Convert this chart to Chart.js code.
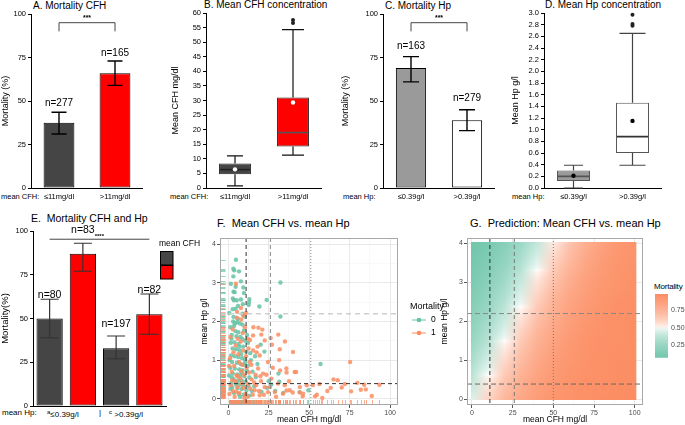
<!DOCTYPE html>
<html lang="en">
<head>
<meta charset="UTF-8">
<title>CFH and Hp mortality</title>
<script src="https://cdn.jsdelivr.net/npm/chart.js"></script>
<style>
  body { margin: 0; background: #fff; width: 685px; height: 425px; position: relative; overflow: hidden;
         font-family: "Liberation Sans", Arial, sans-serif; }
  canvas { position: absolute; }
  .t { position: absolute; white-space: nowrap; color: #000; font-size: 10px; line-height: 10px; }
  .xl { position: absolute; white-space: nowrap; color: #000; font-size: 7.5px; line-height: 9px; }
  .gg { position: absolute; white-space: nowrap; color: #000; font-size: 11px; line-height: 11px; }
  sup { font-size: 6px; vertical-align: 3px; }
</style>
</head>
<body>
<div class="t" style="left:33px;top:1px">A. Mortality CFH</div>
<div class="t" style="left:204px;top:0px">B. Mean CFH concentration</div>
<div class="t" style="left:385px;top:1px">C. Mortality Hp</div>
<div class="t" style="left:545px;top:0px">D. Mean Hp concentration</div>
<div class="xl" style="left:1px;top:192px">mean CFH:</div>
<div class="xl" style="left:170px;top:192px">mean CFH:</div>
<div class="xl" style="left:343px;top:192px">mean Hp:</div>
<div class="xl" style="left:512px;top:192px">mean Hp:</div>

<div class="t" style="left:31px;top:213px;font-size:10.5px">E.&nbsp; Mortality CFH and Hp</div>
<div class="xl" style="left:2px;top:408px;font-size:8px">mean Hp:</div>
<div class="xl" style="left:47px;top:408px;font-size:8px"><sup>a</sup>≤0.39g/l</div>
<div class="xl" style="left:99px;top:408px;font-size:8px">|</div>
<div class="xl" style="left:109px;top:408px;font-size:8px"><sup>c</sup> &gt;0.39g/l</div>

<div class="gg" style="left:217px;top:218px">F.&nbsp; Mean CFH vs. mean Hp</div>
<div class="gg" style="left:470px;top:218px">G.&nbsp; Prediction: Mean CFH vs. mean Hp</div>
<div class="xl" style="left:654px;top:282px;font-size:8px;letter-spacing:-0.2px">Mortality</div>

<canvas id="cA" style="left:0;top:0" width="143" height="205"></canvas>
<canvas id="cB" style="left:170px;top:0" width="152" height="205"></canvas>
<canvas id="cC" style="left:340px;top:0" width="155" height="205"></canvas>
<canvas id="cD" style="left:510px;top:0" width="152" height="205"></canvas>
<canvas id="cE" style="left:0;top:200px" width="210" height="220"></canvas>
<canvas id="cF" style="left:200px;top:230px" width="245" height="195"></canvas>
<canvas id="cG" style="left:440px;top:230px" width="245" height="195"></canvas>
<canvas id="cBar" style="left:650px;top:285px" width="35" height="80"></canvas>

<script>
// ---- data ----
const cfhGroups = ['≤11mg/dl', '>11mg/dl'];
const mortCfh = [37.5, 66];
const mortCfhLo = [31, 59];
const mortCfhHi = [43.5, 73];
const nCfh = ['n=277', 'n=165'];

// box stats: [whisker low, Q1, median, Q3, whisker high]
const cfhBox = [[0.7, 4.7, 6.3, 8.4, 11], [11.3, 14.2, 19, 31, 54.3]];
const cfhMean = [6.4, 29.3];
const cfhOutliers = [[], [56.6, 57.6]];

const hpGroups = ['≤0.39g/l', '>0.39g/l'];
const mortHp = [69, 39];
const mortHpLo = [61, 33];
const mortHpHi = [75.5, 45];
const nHp = ['n=163', 'n=279'];

const hpBox = [[0, 0.12, 0.2, 0.3, 0.39], [0.39, 0.6, 0.88, 1.46, 2.65]];
const hpMean = [0.21, 1.15];
const hpOutliers = [[], [2.78, 2.81, 2.97]];

const comboGroups = ['≤0.39 / ≤11', '≤0.39 / >11', '>0.39 / ≤11', '>0.39 / >11'];
const mortCombo = [50, 87, 33, 52.5];
const mortComboLo = [39, 77, 27, 41];
const mortComboHi = [61, 93, 40, 64];
const nCombo = ['n=80', 'n=83', 'n=197', 'n=82'];

// scatter (mean CFH mg/dl, mean Hp g/l)
const alivePts = [
  [4.7,3.6],[3.1,3.37],[3.6,3.33],[6.6,3.3],[3.1,3.17],[7.8,3.04],[1.6,2.98],[32.2,3.01],
  [3.2,2.77],[3.9,2.76],[9.7,2.74],[9.3,2.88],[2.8,2.6],[3.4,2.55],[13,2.58],[12.8,2.5],[12.6,2.43],
  [5.2,2.55],[7.8,2.57],[23.7,2.56],[19.2,2.39],[2.7,2.32],[4.5,2.33],[0.6,2.22],[8.7,2.2],[10,2.13],
  [32.2,2.13],[3.2,2.12],[5.9,2.07],[5.5,1.98],[7.2,1.95],[8.8,1.92],[1.2,1.85],[3.4,1.88],[4.4,1.75],
  [6.2,1.72],[9.6,1.76],[2.1,1.65],[5,1.62],[7.5,1.6],[8.6,1.55],[10.4,1.5],[1.5,1.45],[3.8,1.46],
  [6.4,1.42],[12.2,1.45],[20,1.4],[22.3,1.22],[9.2,1.35],[2.6,1.3],[4.8,1.28],[7,1.25],[11,1.22],
  [13.5,1.18],[1.7,1.12],[3.9,1.1],[6.1,1.08],[8.5,1.05],[10.3,1.02],[14,1.0],[2.3,0.95],[5.3,0.93],
  [7.6,0.9],[9.5,0.88],[12,0.85],[57,0.9],[1.2,0.8],[4,0.78],[6.7,0.76],[8.8,0.74],[11.5,0.72],
  [15,0.7],[2.8,0.65],[5.5,0.63],[7.2,0.6],[9.9,0.58],[13,0.55],[17,0.56],[3.4,0.5],[6.2,0.48],
  [8.4,0.46],[10.8,0.44],[25,0.45],[31.5,0.44],[1.8,0.4],[4.6,0.38],[7,0.36],[9.2,0.35],[12.5,0.33],
  [16,0.32],[24,0.28],[2.5,0.3],[5.7,0.27],[8.3,0.25],[11.2,0.22],[14.5,0.2],[20.5,0.18],[29,0.2],
  [49.5,0.22],[3.5,0.15],[6.5,0.12],[9.6,0.1],[13,0.08],[34,0.15],[26.5,0.37],[31,0.65],[44,0.17],
  [0.8,1.0],[2.2,0.55],[4.1,1.95],[6.8,1.35],[8.2,0.68],[10.5,0.95],[1.4,0.25],[7.9,1.15],[5.1,0.42],
  [3,2.0],[6,2.4],[11.5,1.65],[16.5,1.1],[18,0.9],[9,2.45],[4.5,2.9],[2,1.55],[7.3,0.05],[0.5,0.6]
];
const deadPts = [
  [4.7,2.98],[7.8,2.35],[9.2,2.16],[5.2,2.1],[8,2.05],[15.5,1.85],[18.6,1.84],[21,1.79],[30.9,1.66],
  [26.2,1.57],[13.4,1.52],[35,1.48],[18.1,1.35],[22.5,1.51],[27,1.4],[31.8,1.28],[40,1.21],[15.3,1.25],
  [19.4,1.12],[24.5,0.95],[31.4,1.0],[35.9,0.78],[41,0.69],[18.4,0.78],[21.5,0.65],[26.6,0.52],
  [30.7,0.39],[34.9,0.35],[38,0.22],[44.2,0.3],[22.5,0.3],[16.3,0.22],[28.7,0.17],[33.8,0.13],
  [46.2,0.13],[19.4,0.09],[24.5,0.17],[15.3,1.64],[20.4,1.66],
  [75.3,0.95],[67.6,0.48],[79.8,0.41],[93.4,0.36],[52.2,0.35],[56.3,0.38],[70.1,0.29],[63.3,0.28],
  [61.2,0.2],[81.9,0.23],[85,0.24],[75.9,0.19],[88.7,0.07],[54.7,0.1],[53.6,0.06],[58.1,0.02],
  [46,0.06],[44.3,0.16],[32,0.73],[36,0.68],[41.9,0.69],
  [1.5,0.35],[2.8,0.2],[4.2,0.45],[5.6,0.3],[6.9,0.15],[8.1,0.4],[9.4,0.28],[10.7,0.12],[12.1,0.38],
  [13.6,0.26],[15.1,0.1],[17.2,0.35],[18.9,0.2],[2.1,0.7],[3.6,0.85],[5.1,0.6],[6.5,0.95],[7.9,0.72],
  [9.8,0.62],[11.3,0.8],[12.8,0.68],[14.4,0.5],[16.8,0.62],[20.2,0.45],[1.1,1.05],[3.2,1.2],[4.6,1.38],
  [6.2,1.15],[7.7,1.48],[9.1,1.25],[10.9,1.1],[12.5,1.3],[14.2,0.88],[1.3,1.6],[2.7,1.8],[5.8,1.55],
  [8.9,1.7],[10.2,1.85],[0.7,0.12],[3.9,0.05],[7.5,0.52],[11.8,0.05],[13.2,0.95],[16,0.42],[19.8,0.58],
  [22,0.1],[23.5,0.62],[25.8,0.3],[27.5,0.8],[4.9,0.18],[8.6,0.88],[6,0.58],[2.4,0.48],[9.9,0.02],
  [12,1.55],[17.5,1.2],[0.4,0.85],[5.4,2.25],[11,2.22],[29.5,0.05],[37.5,0.45],[48.5,0.35],[39.8,0.16],
  [36,0.21],[65,0.5],[72,0.38],[84,0.36]
];
const cfhCuts = [11, 26, 51];
const predCfhCuts = [11, 26, 50];
const hpCuts = [0.39, 2.2];
const cfhGrid = [0, 12.5, 25, 37.5, 50, 62.5, 75, 87.5, 100];
const cfhMajor = [0, 25, 50, 75, 100];
const hpGrid = [0, 0.5, 1, 1.5, 2, 2.5, 3, 3.5, 4];
const hpMajor = [0, 1, 2, 3, 4];

// predicted mortality: rows = predHp, columns = predCfh
const predCfh = [0, 10, 20, 30, 40, 50, 60, 70, 80, 90, 100];
const predHp = [0, 0.5, 1, 1.5, 2, 2.5, 3, 3.5, 4];
const predMort = [
  [0.46, 0.60, 0.73, 0.82, 0.89, 0.94, 0.96, 0.98, 0.99, 0.99, 1.00],
  [0.38, 0.52, 0.66, 0.77, 0.86, 0.91, 0.95, 0.97, 0.98, 0.99, 0.99],
  [0.31, 0.44, 0.58, 0.71, 0.81, 0.89, 0.93, 0.96, 0.98, 0.99, 0.99],
  [0.24, 0.36, 0.50, 0.64, 0.76, 0.85, 0.91, 0.95, 0.97, 0.98, 0.99],
  [0.19, 0.29, 0.42, 0.56, 0.70, 0.80, 0.88, 0.93, 0.96, 0.98, 0.99],
  [0.15, 0.23, 0.35, 0.48, 0.62, 0.75, 0.84, 0.90, 0.94, 0.97, 0.98],
  [0.11, 0.18, 0.28, 0.41, 0.55, 0.68, 0.79, 0.87, 0.92, 0.95, 0.97],
  [0.08, 0.14, 0.22, 0.33, 0.47, 0.61, 0.73, 0.83, 0.90, 0.94, 0.96],
  [0.06, 0.10, 0.17, 0.26, 0.39, 0.53, 0.67, 0.78, 0.86, 0.92, 0.95]
];
const mortRange = [0.06, 0.99];
const mortTicks = [0.25, 0.5, 0.75];

// ---- drawing ----
Chart.defaults.font.family = "'Liberation Sans', Arial, sans-serif";
Chart.defaults.color = '#000';
Chart.defaults.animation = false;
Chart.defaults.responsive = false;
Chart.defaults.devicePixelRatio = 1;
Chart.defaults.plugins.legend.display = false;
Chart.defaults.plugins.tooltip.enabled = false;

const GREEN = [102, 194, 165], ORANGE = [252, 141, 98];
function mortColor(p) {
  let t = (p - 0.5) / 0.5;
  const c = t >= 0 ? ORANGE : GREEN;
  t = Math.pow(Math.min(1, Math.abs(t)), 0.6);
  const m = c.map(v => Math.round(255 + (v - 255) * t));
  return `rgb(${m[0]},${m[1]},${m[2]})`;
}

function yAxis(opts) {
  return Object.assign({
    ticks: { font: { size: 7.5 }, color: '#000', padding: 2, autoSkip: false },
    grid: { display: true, drawOnChartArea: false, tickLength: 3, color: '#000' },
    border: { color: '#000', width: 1 },
  }, opts);
}
function catAxis() {
  return {
    ticks: { font: { size: 7.5 }, color: '#000', padding: 4, maxRotation: 0 },
    grid: { display: false, drawTicks: false },
    border: { color: '#000', width: 1 },
    afterFit: s => { s.height = 14; }
  };
}

function barPlugin(lo, hi, labels, opt) {
  return {
    id: 'errbars',
    afterDatasetsDraw(chart) {
      const { ctx } = chart, x = chart.scales.x, y = chart.scales.y;
      ctx.save();
      ctx.strokeStyle = opt.color; ctx.lineWidth = opt.lw;
      lo.forEach((l, i) => {
        const cx = x.getPixelForValue(i), y1 = y.getPixelForValue(l), y2 = y.getPixelForValue(hi[i]);
        const h = opt.cap / 2;
        ctx.beginPath();
        ctx.moveTo(cx, y1); ctx.lineTo(cx, y2);
        ctx.moveTo(cx - h, y1); ctx.lineTo(cx + h, y1);
        ctx.moveTo(cx - h, y2); ctx.lineTo(cx + h, y2);
        ctx.stroke();
        const yv = y.getPixelForValue(chart.data.datasets[0].data[i]);
        ctx.fillStyle = '#000'; ctx.font = opt.font; ctx.textAlign = 'center'; ctx.textBaseline = 'bottom';
        ctx.fillText(labels[i], cx, yv - opt.lift);
      });
      if (opt.bracket) {
        const xa = x.getPixelForValue(0), xb = x.getPixelForValue(1);
        const yt = y.getPixelForValue(opt.bracket[0]), yd = y.getPixelForValue(opt.bracket[1]);
        ctx.strokeStyle = '#444'; ctx.lineWidth = 1;
        ctx.beginPath();
        ctx.moveTo(xa, yd); ctx.lineTo(xa, yt); ctx.lineTo(xb, yt); ctx.lineTo(xb, yd);
        ctx.stroke();
        ctx.font = 'bold 7px "Liberation Sans"'; ctx.textBaseline = 'bottom';
        ctx.fillText('***', (xa + xb) / 2, yt - 1);
      }
      ctx.restore();
    }
  };
}

function boxPlugin(stats, means, outliers, st) {
  return {
    id: 'boxes',
    afterDatasetsDraw(chart) {
      const { ctx } = chart, x = chart.scales.x, y = chart.scales.y;
      const meta = chart.getDatasetMeta(0);
      ctx.save();
      stats.forEach((s, i) => {
        const cx = x.getPixelForValue(i);
        const [lo, q1, med, q3, hi] = s.map(v => y.getPixelForValue(v));
        const bw = meta.data[i].width;
        ctx.strokeStyle = st.whisker; ctx.lineWidth = 1.2;
        ctx.beginPath();
        ctx.moveTo(cx, q3); ctx.lineTo(cx, hi);
        ctx.moveTo(cx, q1); ctx.lineTo(cx, lo);
        ctx.moveTo(cx - st.cap[i] / 2, hi); ctx.lineTo(cx + st.cap[i] / 2, hi);
        ctx.moveTo(cx - st.cap[i] / 2, lo); ctx.lineTo(cx + st.cap[i] / 2, lo);
        ctx.stroke();
        ctx.strokeStyle = st.median[i]; ctx.lineWidth = 1.6;
        ctx.beginPath(); ctx.moveTo(cx - bw / 2 + 1, med); ctx.lineTo(cx + bw / 2 - 1, med); ctx.stroke();
        ctx.fillStyle = st.mean;
        ctx.beginPath(); ctx.arc(cx, y.getPixelForValue(means[i]), 2.2, 0, Math.PI * 2); ctx.fill();
        ctx.fillStyle = '#222';
        outliers[i].forEach(v => {
          ctx.beginPath(); ctx.arc(cx, y.getPixelForValue(v), 2, 0, Math.PI * 2); ctx.fill();
        });
      });
      ctx.restore();
    }
  };
}

// A. Mortality CFH
new Chart(document.getElementById('cA'), {
  type: 'bar',
  data: { labels: cfhGroups, datasets: [{ data: mortCfh, backgroundColor: ['#454545', '#ff0000'],
    borderColor: '#000', borderWidth: 1, borderSkipped: false, barPercentage: 0.55, categoryPercentage: 1 }] },
  options: {
    layout: { padding: { top: 14, bottom: 3, left: 0, right: 0 } },
    scales: {
      x: catAxis(),
      y: yAxis({ min: 0, max: 100, ticks: { stepSize: 25, font: { size: 7.5 }, color: '#000', padding: 2 },
        title: { display: true, text: 'Mortality (%)', font: { size: 9 }, padding: 0 },
        afterFit: s => { s.width = 31; } })
    }
  },
  plugins: [barPlugin(mortCfhLo, mortCfhHi, nCfh, { color: '#000', lw: 1.4, cap: 15, font: '10px "Liberation Sans"', lift: 15, bracket: [95, 90] })]
});

// B. Mean CFH concentration
new Chart(document.getElementById('cB'), {
  type: 'bar',
  data: { labels: cfhGroups, datasets: [{ data: cfhBox.map(b => [b[1], b[3]]), backgroundColor: ['#454545', '#ff0000'],
    borderColor: '#222', borderWidth: 1, borderSkipped: false, barPercentage: 0.55, categoryPercentage: 1 }] },
  options: {
    layout: { padding: { top: 13, bottom: 3, left: 0, right: 0 } },
    scales: {
      x: catAxis(),
      y: yAxis({ min: 0, max: 60, ticks: { stepSize: 5, font: { size: 7.5 }, color: '#000', padding: 2, autoSkip: false },
        title: { display: true, text: 'Mean CFH mg/dl', font: { size: 9 }, padding: 0 },
        afterFit: s => { s.width = 36; } })
    }
  },
  plugins: [boxPlugin(cfhBox, cfhMean, cfhOutliers, { whisker: '#111', cap: [16, 22], median: ['#222', '#555'], mean: '#fff' })]
});

// C. Mortality Hp
new Chart(document.getElementById('cC'), {
  type: 'bar',
  data: { labels: hpGroups, datasets: [{ data: mortHp, backgroundColor: ['#9a9a9a', '#ffffff'],
    borderColor: '#000', borderWidth: 1, borderSkipped: false, barPercentage: 0.54, categoryPercentage: 1 }] },
  options: {
    layout: { padding: { top: 14, bottom: 3, left: 0, right: 0 } },
    scales: {
      x: catAxis(),
      y: yAxis({ min: 0, max: 100, ticks: { stepSize: 25, font: { size: 7.5 }, color: '#000', padding: 2 },
        title: { display: true, text: 'Mortality (%)', font: { size: 9 }, padding: 0 },
        afterFit: s => { s.width = 43; } })
    }
  },
  plugins: [barPlugin(mortHpLo, mortHpHi, nHp, { color: '#000', lw: 1.4, cap: 16, font: '10px "Liberation Sans"', lift: 17, bracket: [95, 90] })]
});

// D. Mean Hp concentration
new Chart(document.getElementById('cD'), {
  type: 'bar',
  data: { labels: hpGroups, datasets: [{ data: hpBox.map(b => [b[1], b[3]]), backgroundColor: ['#9a9a9a', '#ffffff'],
    borderColor: '#555', borderWidth: 1, borderSkipped: false, barPercentage: 0.56, categoryPercentage: 1 }] },
  options: {
    layout: { padding: { top: 13, bottom: 3, left: 0, right: 0 } },
    scales: {
      x: catAxis(),
      y: yAxis({ min: 0, max: 3, ticks: { stepSize: 0.2, font: { size: 7.5 }, color: '#000', padding: 2, autoSkip: false,
          callback: v => Number(v).toFixed(1) },
        title: { display: true, text: 'Mean Hp g/l', font: { size: 9 }, padding: 0 },
        afterFit: s => { s.width = 34; } })
    }
  },
  plugins: [boxPlugin(hpBox, hpMean, hpOutliers, { whisker: '#444', cap: [19, 26], median: ['#555', '#333'], mean: '#000' })]
});

// E. Mortality CFH and Hp
new Chart(document.getElementById('cE'), {
  type: 'bar',
  data: { labels: comboGroups, datasets: [{ data: mortCombo, backgroundColor: ['#454545', '#ff0000', '#454545', '#ff0000'],
    borderColor: '#000', borderWidth: 1, borderSkipped: false, barPercentage: 0.79, categoryPercentage: 1 }] },
  options: {
    layout: { padding: { top: 31, bottom: 0, left: 0, right: 44 } },
    scales: {
      x: { ticks: { display: false }, grid: { display: false, drawTicks: false }, border: { color: '#000' },
           afterFit: s => { s.height = 14; } },
      y: yAxis({ min: 0, max: 100, ticks: { stepSize: 25, font: { size: 7.5 }, color: '#000', padding: 2 },
        title: { display: true, text: 'Mortality(%)', font: { size: 9.5 }, padding: 0 },
        afterFit: s => { s.width = 33; } })
    }
  },
  plugins: [
    barPlugin(mortComboLo, mortComboHi, nCombo, { color: '#333', lw: 1.2, cap: 18, font: '10.5px "Liberation Sans"', lift: 18.5 }),
    {
      id: 'eExtras',
      afterDatasetsDraw(chart) {
        const { ctx } = chart, x = chart.scales.x, y = chart.scales.y;
        ctx.save();
        const ys = y.getPixelForValue(95.3);
        ctx.strokeStyle = '#444'; ctx.lineWidth = 1;
        ctx.beginPath(); ctx.moveTo(x.getPixelForValue(0), ys); ctx.lineTo(x.getPixelForValue(3), ys); ctx.stroke();
        ctx.font = '10.5px "Liberation Sans"';
        const w = ctx.measureText(nCombo[1]).width;
        ctx.fillStyle = '#000'; ctx.font = 'bold 6px "Liberation Sans"'; ctx.textAlign = 'left'; ctx.textBaseline = 'bottom';
        ctx.fillText('****', x.getPixelForValue(1) + w / 2, y.getPixelForValue(mortCombo[1]) - 14);
        // legend
        const lx = 160, ly = 51;
        ctx.font = '8.5px "Liberation Sans"'; ctx.textBaseline = 'middle';
        ctx.fillText('mean CFH', lx - 1, 44);
        ctx.lineWidth = 1; ctx.strokeStyle = '#000';
        ctx.fillStyle = '#454545'; ctx.fillRect(lx, ly, 13, 14); ctx.strokeRect(lx + 0.5, ly + 0.5, 12.5, 13.5);
        ctx.fillStyle = '#ff0000'; ctx.fillRect(lx, ly + 14, 13, 14); ctx.strokeRect(lx + 0.5, ly + 14.5, 12.5, 13.5);
        ctx.restore();
      }
    }
  ]
});

// shared ggplot-like axes
function ggAxis(min, max, grid, major, title, fitKey, fitVal) {
  return {
    type: 'linear', min, max,
    afterBuildTicks: s => { s.ticks = grid.map(v => ({ value: v })); },
    ticks: { font: { size: 7 }, color: '#4d4d4d', padding: 1, autoSkip: false, maxRotation: 0,
      callback: v => major.includes(v) ? String(v) : '' },
    grid: {
      color: c => (c.tick && major.includes(c.tick.value)) ? '#e6e6e6' : '#f3f3f3',
      lineWidth: c => (c.tick && major.includes(c.tick.value)) ? 0.9 : 0.5,
      tickColor: c => (c.tick && major.includes(c.tick.value)) ? '#444' : 'rgba(0,0,0,0)',
      tickLength: 3, drawTicks: true
    },
    border: { display: false },
    title: { display: true, text: title, font: { size: 8.5 }, color: '#000', padding: 0 },
    afterFit: s => { s[fitKey] = fitVal; }
  };
}
function panelFrame(chart) {
  const { ctx, chartArea: a } = chart;
  ctx.save(); ctx.strokeStyle = '#a8a8a8'; ctx.lineWidth = 1;
  ctx.strokeRect(Math.round(a.left) + 0.5, Math.round(a.top) + 0.5, Math.round(a.right - a.left) - 1, Math.round(a.bottom - a.top) - 1);
  ctx.restore();
}
function cutLines(chart, xs, ys, styles) {
  const { ctx, chartArea: a } = chart, x = chart.scales.x, y = chart.scales.y;
  ctx.save();
  xs.forEach((v, i) => {
    const s = styles.x[i]; const px = x.getPixelForValue(v);
    ctx.strokeStyle = s[0]; ctx.lineWidth = s[1]; ctx.setLineDash(s[2]);
    ctx.beginPath(); ctx.moveTo(px, a.top); ctx.lineTo(px, a.bottom); ctx.stroke();
  });
  ys.forEach((v, i) => {
    const s = styles.y[i]; const py = y.getPixelForValue(v);
    ctx.strokeStyle = s[0]; ctx.lineWidth = s[1]; ctx.setLineDash(s[2]);
    ctx.beginPath(); ctx.moveTo(a.left, py); ctx.lineTo(a.right, py); ctx.stroke();
  });
  ctx.restore();
}

// F. Mean CFH vs. mean Hp
new Chart(document.getElementById('cF'), {
  type: 'scatter',
  data: { datasets: [
    { data: deadPts.map(p => ({ x: p[0], y: p[1] })), backgroundColor: 'rgba(252,141,98,0.85)', borderWidth: 0, pointRadius: 2.2 },
    { data: alivePts.map(p => ({ x: p[0], y: p[1] })), backgroundColor: 'rgba(102,194,165,0.85)', borderWidth: 0, pointRadius: 2.2 }
  ] },
  options: {
    layout: { padding: { top: 8, bottom: 0, left: 0, right: 47 } },
    scales: {
      x: ggAxis(-5.15, 104.9, cfhGrid, cfhMajor, 'mean CFH mg/dl', 'height', 20),
      y: ggAxis(-0.164, 4.164, hpGrid, hpMajor, 'mean Hp g/l', 'width', 20)
    }
  },
  plugins: [{
    id: 'fExtras',
    afterDatasetsDraw(chart) {
      const { ctx, chartArea: a } = chart, x = chart.scales.x, y = chart.scales.y;
      ctx.save();
      ctx.lineWidth = 1;
      [[alivePts, 'rgba(102,194,165,0.7)'], [deadPts, 'rgba(252,141,98,0.7)']].forEach(([pts, col]) => {
        ctx.strokeStyle = col;
        pts.forEach(p => {
          const px = Math.round(x.getPixelForValue(p[0])) + 0.5, py = Math.round(y.getPixelForValue(p[1])) + 0.5;
          ctx.beginPath();
          ctx.moveTo(a.left, py); ctx.lineTo(a.left + 5.5, py);
          ctx.moveTo(px, a.bottom); ctx.lineTo(px, a.bottom - 5);
          ctx.stroke();
        });
      });
      ctx.restore();
      cutLines(chart, cfhCuts, hpCuts, {
        x: [['#333', 1, [4, 3]], ['#888', 1, [4, 3]], ['#888', 1, [1, 2]]],
        y: [['#333', 1, [4, 3]], ['#cfcfcf', 1.6, [5, 4]]]
      });
      // legend
      ctx.save();
      const lx = 210;
      ctx.fillStyle = '#000'; ctx.font = '9px "Liberation Sans"'; ctx.textBaseline = 'middle'; ctx.textAlign = 'left';
      ctx.fillText('Mortality', lx, 77);
      [['0', 'rgb(102,194,165)', 90], ['1', 'rgb(252,141,98)', 103]].forEach(([t, c, ly]) => {
        ctx.strokeStyle = c; ctx.fillStyle = c; ctx.lineWidth = 1;
        ctx.beginPath(); ctx.moveTo(lx + 2, ly); ctx.lineTo(lx + 16, ly); ctx.stroke();
        ctx.beginPath(); ctx.arc(lx + 9, ly, 2.3, 0, Math.PI * 2); ctx.fill();
        ctx.fillStyle = '#000'; ctx.font = '8.5px "Liberation Sans"';
        ctx.fillText(t, lx + 21, ly);
      });
      ctx.restore();
    },
    afterDraw: panelFrame
  }]
});

// G. Prediction heat map
function predRow(hp) {
  const h = Math.max(predHp[0], Math.min(predHp[predHp.length - 1], hp));
  let i = 0;
  while (i < predHp.length - 2 && h > predHp[i + 1]) i++;
  const f = (h - predHp[i]) / (predHp[i + 1] - predHp[i]);
  return predMort[i].map((v, j) => v + (predMort[i + 1][j] - v) * f);
}
new Chart(document.getElementById('cG'), {
  type: 'scatter',
  data: { datasets: [{ data: [] }] },
  options: {
    layout: { padding: { top: 8, bottom: 0, left: 0, right: 42 } },
    scales: {
      x: ggAxis(-3.06, 105.1, cfhGrid, cfhMajor, 'mean CFH mg/dl', 'height', 20),
      y: ggAxis(-0.148, 4.14, hpGrid, hpMajor, 'mean Hp g/l', 'width', 27)
    }
  },
  plugins: [{
    id: 'tiles',
    beforeDatasetsDraw(chart) {
      const { ctx } = chart, x = chart.scales.x, y = chart.scales.y;
      const x0 = x.getPixelForValue(-0.6), x1 = x.getPixelForValue(101);
      const g0 = x.getPixelForValue(predCfh[0]), g1 = x.getPixelForValue(predCfh[predCfh.length - 1]);
      const yT = Math.round(y.getPixelForValue(4.03)), yB = Math.round(y.getPixelForValue(-0.03));
      ctx.save();
      for (let py = yT; py < yB; py++) {
        const row = predRow(y.getValueForPixel(py + 0.5));
        const g = ctx.createLinearGradient(g0, 0, g1, 0);
        row.forEach((v, j) => g.addColorStop((x.getPixelForValue(predCfh[j]) - g0) / (g1 - g0), mortColor(v)));
        ctx.fillStyle = g;
        ctx.fillRect(x0, py, x1 - x0, 1);
      }
      ctx.restore();
    },
    afterDatasetsDraw(chart) {
      cutLines(chart, predCfhCuts, hpCuts, {
        x: [['#333', 1, [4, 3]], ['#777', 1, [4, 3]], ['#777', 1, [1, 2]]],
        y: [['#666', 1, [5, 3]], ['#888', 1, [5, 3]]]
      });
    },
    afterDraw: panelFrame
  }]
});

// colour bar legend for G
new Chart(document.getElementById('cBar'), {
  type: 'bar',
  data: { labels: ['m'], datasets: [{ data: [mortRange], barPercentage: 1, categoryPercentage: 1, borderWidth: 0,
    backgroundColor: c => {
      const ch = c.chart; if (!ch.chartArea) return '#fff';
      const y = ch.scales.y;
      const ya = y.getPixelForValue(mortRange[0]), yb = y.getPixelForValue(mortRange[1]);
      const g = ch.ctx.createLinearGradient(0, ya, 0, yb);
      for (let k = 0; k <= 20; k++) {
        const v = mortRange[0] + (mortRange[1] - mortRange[0]) * k / 20;
        g.addColorStop(k / 20, mortColor(v));
      }
      return g;
    } }] },
  options: {
    layout: { padding: { top: 9, bottom: 7, left: 5, right: 0 } },
    scales: {
      x: { display: false },
      y: { position: 'right', min: mortRange[0], max: mortRange[1],
        afterBuildTicks: s => { s.ticks = mortTicks.map(v => ({ value: v })); },
        ticks: { font: { size: 7 }, color: '#4d4d4d', padding: 3, callback: v => Number(v).toFixed(2) },
        grid: { display: false, drawTicks: false }, border: { display: false },
        afterFit: s => { s.width = 17; } }
    }
  }
});
</script>
</body>
</html>
